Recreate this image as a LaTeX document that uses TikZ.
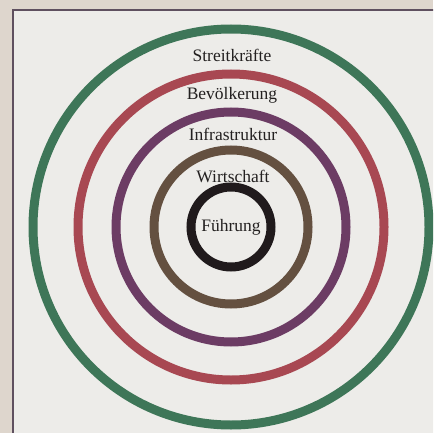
\documentclass[tikz,border=0pt]{standalone}
\usepackage{fontspec}
\setmainfont{Liberation Serif}
\usetikzlibrary{positioning}
\definecolor{paper}{RGB}{222,214,205}
\definecolor{sheet}{RGB}{237,236,233}
\definecolor{framecol}{RGB}{95,80,95}
\definecolor{ringgreen}{RGB}{62,118,88}
\definecolor{ringred}{RGB}{168,72,82}
\definecolor{ringpurple}{RGB}{108,60,100}
\definecolor{ringbrown}{RGB}{100,80,64}
\definecolor{ringblack}{RGB}{32,26,28}
\definecolor{labelcol}{RGB}{35,32,32}

\begin{document}
\begin{tikzpicture}[x=1pt,y=-1pt,
        ring/.style={circle,draw=#1,line width=9pt,inner sep=0pt},
        ringlabel/.style={text=labelcol,font=\fontsize{17.5}{19}\selectfont,inner sep=0pt}]
    \useasboundingbox (0,0) rectangle (433,433);
    \clip (0,0) rectangle (433,433);
    \fill[paper] (0,0) rectangle (433,433);
    \draw[framecol,line width=1.4pt,fill=sheet] (13,10) rectangle (445,445);
    \coordinate (c) at (231,227);
    % rings from outside in
    \node[ring=ringgreen,minimum size=396pt] (streit) at (c) {};
    \node[ring=ringred,minimum size=306pt] (bevoelk) at (c) {};
    \node[ring=ringpurple,minimum size=230pt] (infra) at (c) {};
    \node[ring=ringbrown,minimum size=154pt] (wirt) at (c) {};
    \node[ring=ringblack,minimum size=80pt] (fuehr) at (c) {};
    % labels
    \node[ringlabel] (lstreit) at (232,55) {Streitkräfte};
    \node[ringlabel] (lbevoelk) at (232,95) {Bevölkerung};
    \node[ringlabel] (linfra) at (233,134) {Infrastruktur};
    \node[ringlabel] (lwirt) at (233,176) {Wirtschaft};
    \node[ringlabel] (lfuehr) at (c) {Führung};
\end{tikzpicture}
\end{document}
